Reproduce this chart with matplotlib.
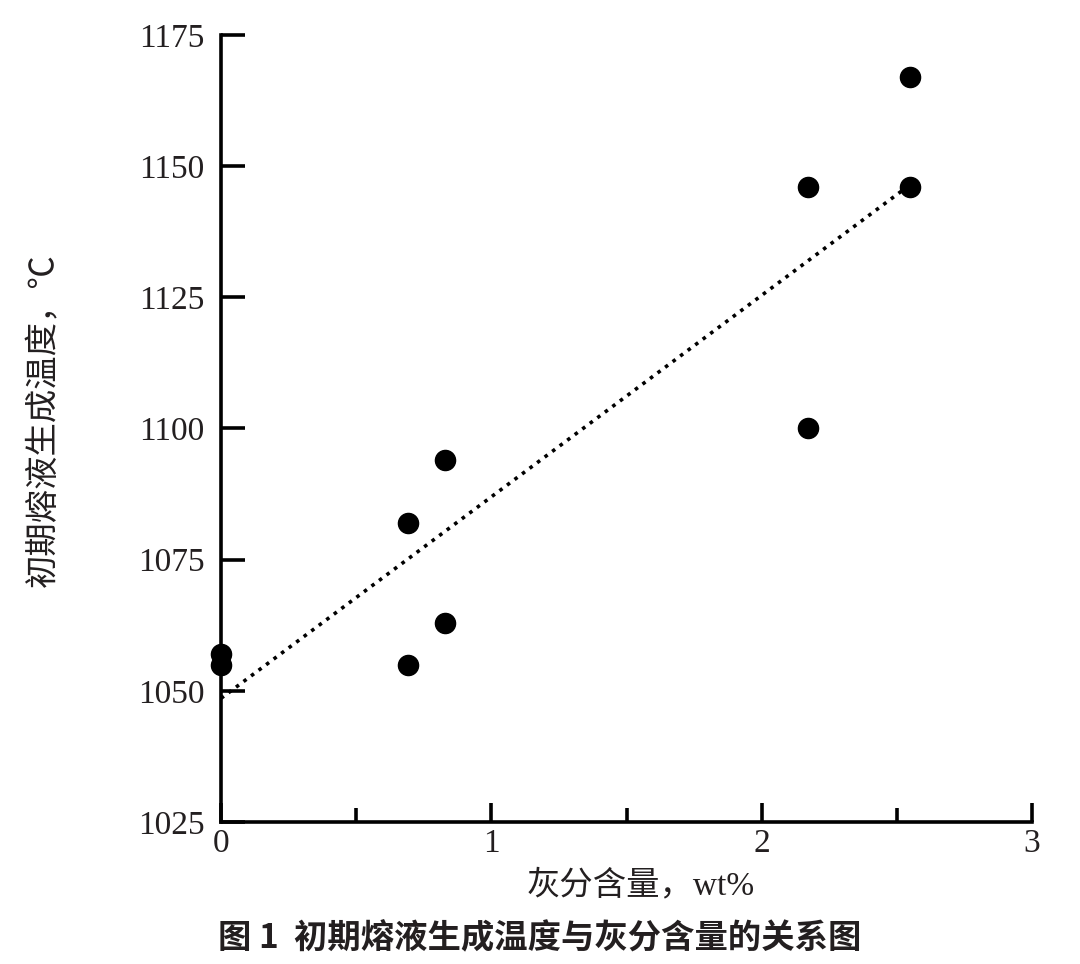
import numpy as np
import matplotlib
matplotlib.use("Agg")
import matplotlib.pyplot as plt

# ash content (wt%) and initial melt formation temperature (C)
ash = [0, 0, 0.69, 0.69, 0.83, 0.83, 2.17, 2.17, 2.55, 2.55]
temp = [1057, 1055, 1082, 1055, 1094, 1063, 1146, 1100, 1167, 1146]

xticks = [0, 1, 2, 3]
yticks = [1025, 1050, 1075, 1100, 1125, 1150, 1175]

ink = "#231f20"
serif_cjk = ["Liberation Serif", "Noto Sans CJK SC"]

fig = plt.figure(figsize=(10.8, 9.64), dpi=100)
ax = fig.add_axes([0.2046, 0.1473, 0.751, 0.8164])

ax.plot(ash, temp, "o", color="black", markersize=14.5, zorder=3, clip_on=False)

k, b = np.polyfit(ash, temp, 1)
xl = np.array([min(ash), max(ash)])
ax.plot(xl, k * xl + b, color="black", linestyle=(0, (1, 1.6)), linewidth=2.6)

ax.set_xlim(0, 3)
ax.set_ylim(1025, 1175)
ax.set_xticks(xticks)
ax.set_xticks([0.5, 1.5, 2.5], minor=True)
ax.set_yticks(yticks)

for s in ["top", "right"]:
    ax.spines[s].set_visible(False)
for s in ["left", "bottom"]:
    ax.spines[s].set_linewidth(2.6)

ax.tick_params(axis="both", which="both", direction="in", width=2.6, colors="black",
               labelcolor=ink)
ax.tick_params(axis="x", which="major", length=14, pad=5)
ax.tick_params(axis="x", which="minor", length=10)
ax.tick_params(axis="y", which="major", length=17, pad=12)
for lab in ax.get_xticklabels() + ax.get_yticklabels():
    lab.set_fontfamily("Liberation Serif")
    lab.set_fontsize(24)

ax.set_xlabel("灰分含量，wt%", fontsize=24, family=serif_cjk, color=ink)
ax.set_ylabel("初期熔液生成温度，℃", fontsize=24, family=serif_cjk, color=ink)
ax.xaxis.set_label_coords(0.517, -0.06)
ax.yaxis.set_label_coords(-0.198, 0.511)

fig.text(0.5, 0.027, "图 1  初期熔液生成温度与灰分含量的关系图", ha="center", va="center",
         fontsize=24, fontweight="bold", family=["Noto Sans CJK SC", "DejaVu Sans"],
         color=ink)

fig.savefig("out.png", dpi=100)
